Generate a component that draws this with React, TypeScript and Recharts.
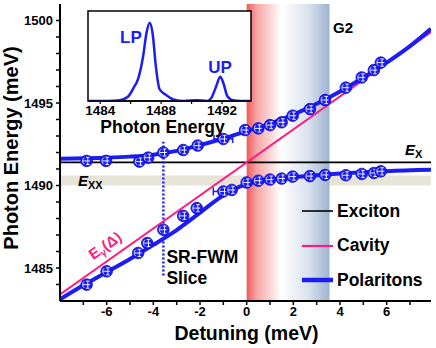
import {
  ComposedChart,
  LineChart,
  Line,
  Scatter,
  XAxis,
  YAxis,
  ReferenceLine,
  ReferenceArea,
  ReferenceDot,
  ErrorBar,
  Legend,
} from "recharts";

const BLUE = "#1c1cf4";
const PINK = "#ff1a80";
const FONT = '"Liberation Sans", Arial, Helvetica, sans-serif';

// measured polariton energies (detuning meV, energy meV)
const upDet = [-6.86, -6.03, -4.6, -4.22, -3.57, -2.72, -2.1, -1.0, -0.07, 0.5, 1.0, 1.5, 1.97, 2.71, 3.36, 4.25, 4.93, 5.45, 5.75];
const upE = [1491.49, 1491.49, 1491.45, 1491.69, 1492.0, 1492.15, 1492.42, 1492.82, 1493.36, 1493.46, 1493.66, 1493.83, 1494.23, 1494.63, 1495.18, 1495.93, 1496.55, 1496.99, 1497.45];
const upErr = [0, 0, 0, 0, 0, 0, 0, 0.4, 0, 0, 0, 0, 0, 0, 0, 0, 0, 0, 0];

const loDet = [-6.86, -6.0, -4.65, -4.26, -3.57, -2.72, -2.14, -1.0, -0.64, 0.0, 0.5, 1.0, 1.5, 1.97, 2.71, 3.36, 4.25, 4.93, 5.45, 5.75];
const loE = [1483.99, 1484.8, 1485.91, 1486.51, 1487.32, 1488.16, 1488.63, 1489.64, 1489.73, 1490.18, 1490.29, 1490.36, 1490.42, 1490.54, 1490.57, 1490.64, 1490.62, 1490.7, 1490.76, 1490.86];
const loErr = [0, 0, 0, 0, 0, 0, 0, 0.43, 0, 0, 0, 0, 0, 0, 0, 0, 0, 0, 0, 0];

// model curves
const upFitDet = [-8, -6, -5, -4, -3, -2, -1, 0, 1, 2, 3, 4, 5, 6, 7, 7.9];
const upFitE = [1491.62, 1491.68, 1491.75, 1491.87, 1492.1, 1492.45, 1492.85, 1493.3, 1493.75, 1494.3, 1494.95, 1495.7, 1496.55, 1497.45, 1498.45, 1499.5];
const loFitDet = [-8, -7, -6, -5, -4, -3, -2, -1.5, -1, -0.5, 0, 1, 2, 3, 4, 5, 6, 7.9];
const loFitE = [1483.1, 1483.95, 1484.75, 1485.55, 1486.4, 1487.3, 1488.35, 1488.9, 1489.4, 1489.8, 1490.08, 1490.35, 1490.5, 1490.62, 1490.72, 1490.8, 1490.87, 1490.95];
const cavDet = [-8, 7.9];
const cavE = [1483.4, 1499.3];

const EXCITON = 1491.4;
const EXX = [1490, 1490.6];
const G2_BAND = [0, 3.55];
const SLICE_DET = -3.57;
const SLICE_E = [1484.55, 1492.65];

const xTicks = [-7, -6, -5, -4, -3, -2, -1, 0, 1, 2, 3, 4, 5, 6, 7];
const yTicks = [1484, 1485, 1486, 1487, 1488, 1489, 1490, 1491, 1492, 1493, 1494, 1495, 1496, 1497, 1498, 1499, 1500];

// inset: SR-FWM spectrum
const insetDomain = [1483.2, 1493.9];
const insetYDomain = [0, 1.15];
const insetE = [1483.2, 1484.5, 1485.3, 1485.8, 1486.2, 1486.5, 1486.8, 1487.05, 1487.25, 1487.45, 1487.65, 1487.9, 1488.3, 1488.8, 1489.5, 1490.3, 1491.0, 1491.3, 1491.6, 1491.88, 1492.1, 1492.35, 1492.7, 1493.2, 1493.9];
const insetS = [0, 0, 0.01, 0.05, 0.17, 0.29, 0.55, 0.88, 1.0, 0.85, 0.45, 0.15, 0.08, 0.02, 0, 0.01, 0, 0.04, 0.18, 0.31, 0.22, 0.06, 0.01, 0, 0];
const insetTicks = [1484, 1486, 1488, 1490, 1492];

const legendNames = ["Exciton", "Cavity", "Polaritons"];
const legendColors = ["#000", PINK, BLUE];
const legendWidths = [1.6, 2.2, 4.5];

const zip = (xs: number[], ys: number[], es?: number[]) =>
  xs.map((x, i) => ({ x, y: ys[i], xe: es ? es[i] : 0 }));

const upperPts = zip(upDet, upE, upErr);
const lowerPts = zip(loDet, loE, loErr);
const upperFit = zip(upFitDet, upFitE);
const lowerFit = zip(loFitDet, loFitE);
const cavity = zip(cavDet, cavE);
const insetData = zip(insetE, insetS);

const Marker = (p: any) => {
  const { cx, cy } = p;
  if (cx == null || cy == null) return null;
  return (
    <g>
      <circle cx={cx} cy={cy} r={5.8} fill={BLUE} stroke="#0c0cc8" strokeWidth={0.8} />
      <path
        d={`M${cx - 3.6},${cy} H${cx + 3.4} M${cx + 1.2},${cy - 3.6} V${cy + 3.6} M${cx - 0.6},${cy - 3.6} H${cx + 3} M${cx - 0.6},${cy + 3.6} H${cx + 3}`}
        stroke="#fff"
        strokeWidth={0.9}
        fill="none"
      />
      <path d={`M${cx - 2.4},${cy - 3.2} A4,4 0 0 0 ${cx - 2.4},${cy + 3.2}`} stroke="#fff" strokeWidth={0.8} fill="none" />
    </g>
  );
};

// text placed at a data point through a ReferenceDot label
const note =
  (render: (x: number, y: number) => any) =>
  (p: any) => {
    const vb = p.viewBox || {};
    return render(vb.x ?? 0, vb.y ?? 0);
  };

const bold = { fontWeight: 700, fontFamily: FONT } as const;

export default function App() {
  return (
    <div style={{ position: "absolute", left: 0, top: 0, width: 436, height: 348, background: "#fff", fontFamily: FONT }}>
      <ComposedChart width={436} height={348} margin={{ top: 4, right: 5, bottom: 0, left: 0 }}>
        <defs>
          <linearGradient id="g2band" x1="0" y1="0" x2="1" y2="0">
            <stop offset="0" stopColor="#f25858" />
            <stop offset="0.12" stopColor="#f7a4a4" />
            <stop offset="0.42" stopColor="#ffffff" />
            <stop offset="0.75" stopColor="#d8e1ed" />
            <stop offset="1" stopColor="#9db3cf" />
          </linearGradient>
        </defs>

        <XAxis
          dataKey="x"
          type="number"
          domain={[-8, 7.9]}
          allowDataOverflow
          ticks={xTicks}
          tickFormatter={(v: number) => (v % 2 === 0 ? String(v) : "")}
          height={47}
          tickSize={4}
          tickMargin={2}
          axisLine={{ stroke: "#000", strokeWidth: 2 }}
          tickLine={{ stroke: "#000", strokeWidth: 1.5 }}
          tick={{ fontSize: 13, fontWeight: 700, fill: "#000", fontFamily: FONT }}
          label={(p: any) => {
            const vb = p.viewBox;
            return (
              <text x={vb.x + vb.width / 2 + 1} y={vb.y + 39} textAnchor="middle" fontSize={19.5} fill="#000" style={bold}>
                Detuning (meV)
              </text>
            );
          }}
        />
        <XAxis
          xAxisId="top"
          orientation="top"
          dataKey="x"
          type="number"
          domain={[-8, 7.9]}
          allowDataOverflow
          ticks={xTicks}
          mirror
          tick={false}
          height={0}
          tickSize={4}
          axisLine={{ stroke: "#000", strokeWidth: 2 }}
          tickLine={{ stroke: "#000", strokeWidth: 1.5 }}
        />
        <YAxis
          type="number"
          domain={[1483, 1501]}
          allowDataOverflow
          ticks={yTicks}
          tickFormatter={(v: number) => (v % 5 === 0 ? String(v) : "")}
          width={60}
          tickSize={4}
          tickMargin={3}
          axisLine={{ stroke: "#000", strokeWidth: 2 }}
          tickLine={{ stroke: "#000", strokeWidth: 1.5 }}
          tick={{ fontSize: 13, fontWeight: 700, fill: "#000", fontFamily: FONT }}
          label={(p: any) => {
            const vb = p.viewBox;
            const cx = 18;
            const cy = vb.y + vb.height / 2 - 4.5;
            return (
              <text x={cx} y={cy} textAnchor="middle" fontSize={20} fill="#000" style={bold} transform={`rotate(-90 ${cx} ${cy})`}>
                Photon Energy (meV)
              </text>
            );
          }}
        />
        <YAxis
          yAxisId="right"
          orientation="right"
          type="number"
          domain={[1483, 1501]}
          allowDataOverflow
          ticks={yTicks}
          mirror
          tick={false}
          width={0}
          tickSize={4}
          axisLine={{ stroke: "#000", strokeWidth: 2 }}
          tickLine={{ stroke: "#000", strokeWidth: 1.5 }}
        />

        <ReferenceArea y1={EXX[0]} y2={EXX[1]} fill="#e7e4d7" fillOpacity={1} stroke="none" />
        <ReferenceArea x1={G2_BAND[0]} x2={G2_BAND[1]} fill="url(#g2band)" fillOpacity={1} stroke="none" />
        <ReferenceLine y={EXCITON} stroke="#000" strokeWidth={1.8} />
        <ReferenceLine
          segment={[
            { x: SLICE_DET, y: SLICE_E[0] },
            { x: SLICE_DET, y: SLICE_E[1] },
          ]}
          stroke={BLUE}
          strokeWidth={2.5}
          strokeDasharray="2 2"
        />

        <Line data={cavity} dataKey="y" type="linear" stroke={PINK} strokeWidth={2} dot={false} isAnimationActive={false} />
        <Line data={upperFit} dataKey="y" type="monotone" stroke={BLUE} strokeWidth={4} dot={false} isAnimationActive={false} />
        <Line data={lowerFit} dataKey="y" type="monotone" stroke={BLUE} strokeWidth={4} dot={false} isAnimationActive={false} />

        <Scatter data={upperPts} dataKey="y" shape={(p: any) => <Marker {...p} />} isAnimationActive={false}>
          <ErrorBar dataKey="xe" direction="x" width={4} stroke={BLUE} strokeWidth={1.5} />
        </Scatter>
        <Scatter data={lowerPts} dataKey="y" shape={(p: any) => <Marker {...p} />} isAnimationActive={false}>
          <ErrorBar dataKey="xe" direction="x" width={4} stroke={BLUE} strokeWidth={1.5} />
        </Scatter>

        <ReferenceDot
          x={3.7}
          y={1499.27}
          r={0}
          stroke="none"
          label={note((x, y) => (
            <text x={x} y={y} fontSize={15} fill="#000" style={bold}>
              G2
            </text>
          ))}
        />
        <ReferenceDot
          x={6.79}
          y={1491.83}
          r={0}
          stroke="none"
          label={note((x, y) => (
            <text x={x} y={y} fontSize={15} fill="#000" style={bold}>
              <tspan fontStyle="italic">E</tspan>
              <tspan fontSize={11} dy={3}>X</tspan>
            </text>
          ))}
        />
        <ReferenceDot
          x={-7.23}
          y={1489.96}
          r={0}
          stroke="none"
          label={note((x, y) => (
            <text x={x} y={y} fontSize={15} fill="#000" style={bold}>
              <tspan fontStyle="italic">E</tspan>
              <tspan fontSize={11} dy={3}>XX</tspan>
            </text>
          ))}
        />
        <ReferenceDot
          x={-3.44}
          y={1485.3}
          r={0}
          stroke="none"
          label={note((x, y) => (
            <text x={x} y={y} fontSize={17.5} fill="#000" style={bold}>
              <tspan x={x}>SR-FWM</tspan>
              <tspan x={x} dy={21}>Slice</tspan>
            </text>
          ))}
        />
        <ReferenceDot
          x={-5.94}
          y={1486.1}
          r={0}
          stroke="none"
          label={note((x, y) => (
            <text x={x} y={y} fontSize={15} fill={PINK} textAnchor="middle" style={bold} transform={`rotate(-35 ${x} ${y})`}>
              E<tspan fontSize={10} dy={3}>γ</tspan>
              <tspan dy={-3}>(Δ)</tspan>
            </text>
          ))}
        />

        <Legend
          layout="vertical"
          align="center"
          verticalAlign="middle"
          wrapperStyle={{ left: 302, top: 194, width: 134 }}
          content={() => (
            <div style={{ fontFamily: FONT }}>
              {legendNames.map((n, i) => (
                <div key={n} style={{ display: "flex", alignItems: "center", height: 34.5 }}>
                  <svg width={31} height={8}>
                    <line x1={0} x2={31} y1={4} y2={4} stroke={legendColors[i]} strokeWidth={legendWidths[i]} />
                  </svg>
                  <span style={{ marginLeft: 4, fontSize: 17.5, fontWeight: 700, color: "#000" }}>{n}</span>
                </div>
              ))}
            </div>
          )}
        />
      </ComposedChart>

      <div style={{ position: "absolute", left: 60, top: 10 }}>
        <LineChart width={192} height={130} data={insetData} margin={{ top: 1, right: 1, bottom: 0, left: 28 }}>
          <ReferenceArea
            x1={insetDomain[0]}
            x2={insetDomain[1]}
            y1={insetYDomain[0]}
            y2={insetYDomain[1]}
            ifOverflow="visible"
            fill="#fff"
            fillOpacity={1}
            stroke="#000"
            strokeWidth={1.5}
          />
          <XAxis
            dataKey="x"
            type="number"
            domain={insetDomain}
            allowDataOverflow
            ticks={insetTicks}
            tickFormatter={(v: number) => (v % 4 === 0 ? String(v) : "")}
            height={39}
            tickSize={3}
            tickMargin={1}
            axisLine={{ stroke: "#000", strokeWidth: 1.5 }}
            tickLine={{ stroke: "#000", strokeWidth: 1.2 }}
            tick={{ fontSize: 13.5, fontWeight: 700, fill: "#000", fontFamily: FONT }}
            label={(p: any) => {
              const vb = p.viewBox;
              return (
                <text x={vb.x + vb.width / 2 - 7} y={vb.y + 32} textAnchor="middle" fontSize={17.5} fill="#000" style={bold}>
                  Photon Energy
                </text>
              );
            }}
          />
          <YAxis
            type="number"
            domain={insetYDomain}
            allowDataOverflow
            width={0}
            tick={false}
            axisLine={false}
            tickLine={false}
            label={(p: any) => {
              const vb = p.viewBox;
              const cx = vb.x - 8;
              const cy = vb.y + vb.height / 2 + 5.5;
              return (
                <text x={cx} y={cy} textAnchor="middle" fontSize={17} fill="#000" style={bold} transform={`rotate(-90 ${cx} ${cy})`}>
                  SR-FWM
                </text>
              );
            }}
          />
          <Line dataKey="y" type="monotone" stroke={BLUE} strokeWidth={2.5} dot={false} isAnimationActive={false} />
          <ReferenceDot
            x={1486.02}
            y={0.737}
            r={0}
            stroke="none"
            label={note((x, y) => (
              <text x={x} y={y} fontSize={17} fill={BLUE} textAnchor="middle" style={bold}>
                LP
              </text>
            ))}
          />
          <ReferenceDot
            x={1491.87}
            y={0.363}
            r={0}
            stroke="none"
            label={note((x, y) => (
              <text x={x} y={y} fontSize={17} fill={BLUE} textAnchor="middle" style={bold}>
                UP
              </text>
            ))}
          />
        </LineChart>
      </div>
    </div>
  );
}
